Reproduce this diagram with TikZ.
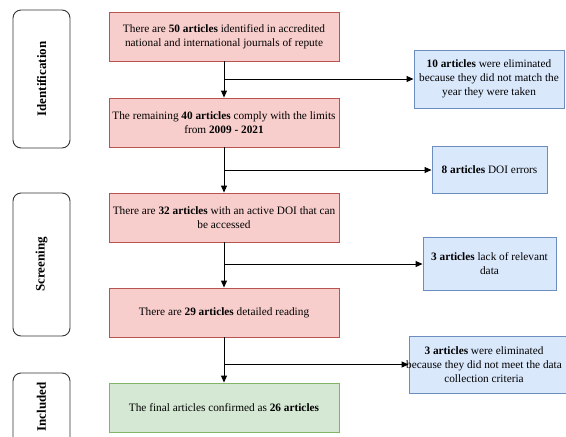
\documentclass[tikz,border=0pt]{standalone}
\usepackage{fontspec}
\setmainfont{Liberation Serif}
\usetikzlibrary{arrows.meta}
\definecolor{redfill}{HTML}{F8CECC}
\definecolor{redline}{HTML}{B85450}
\definecolor{bluefill}{HTML}{DAE8FC}
\definecolor{blueline}{HTML}{6C8EBF}
\definecolor{greenfill}{HTML}{D5E8D4}
\definecolor{greenline}{HTML}{82B366}
\tikzset{
  mainbox/.style={draw=redline, fill=redfill, line width=0.9pt, minimum width=230pt, minimum height=49pt, inner sep=0pt, align=center, font=\fontsize{11.3}{14}\selectfont},
  finalbox/.style={mainbox, draw=greenline, fill=greenfill},
  sidebox/.style={draw=blueline, fill=bluefill, line width=0.9pt, inner sep=0pt, align=center, font=\fontsize{11.3}{14}\selectfont},
  stagebox/.style={draw=black!80, fill=white, line width=0.9pt, rounded corners=8pt, minimum width=57pt, inner sep=0pt},
  stagelabel/.style={rotate=90, font=\fontsize{13}{15}\selectfont\bfseries},
  flow/.style={line width=0.9pt, -{Triangle[length=7pt,width=6pt]}},
  plaintext/.style={align=center, inner sep=0pt, font=\fontsize{11.3}{14}\selectfont}
}
\begin{document}
\begin{tikzpicture}[x=1pt, y=-1pt]
\useasboundingbox (0,0) rectangle (566,437);
% stage boxes
\node[stagebox, minimum height=138pt] (st1) at (41.5,79) {};
\node[stagelabel] (st1t) at (st1.center) {Identification};
\node[stagebox, minimum height=143pt] (st2) at (41.5,264.5) {};
\node[stagelabel] (st2t) at (st2.center) {Screening};
\node[stagebox, minimum height=72pt] (st3) at (41.5,409) {};
\node[stagelabel] (st3t) at (41.5,407) {Included};
% main column
\node[mainbox] (m1) at (224,36.5) {There are \textbf{50 articles} identified in accredited\\national and international journals of repute};
\node[mainbox] (m2) at (224,122.5) {The remaining \textbf{40 articles} comply with the limits\\from \textbf{2009 - 2021}};
\node[mainbox] (m3) at (224,217.5) {There are \textbf{32 articles} with an active DOI that can\\be accessed};
\node[mainbox] (m4) at (224,312.5) {There are \textbf{29 articles} detailed reading};
\node[finalbox] (m5) at (224,407.5) {The final articles confirmed as \textbf{26 articles}};
% side boxes
\node[sidebox, minimum width=150pt, minimum height=58pt] (b1) at (489,79) {\textbf{10 articles} were eliminated\\because they did not match the\\year they were taken};
\node[sidebox, minimum width=115pt, minimum height=47pt] (b2) at (489.5,170) {\textbf{8 articles} DOI errors};
\node[sidebox, minimum width=133pt, minimum height=53pt] (b3) at (489.5,264) {\textbf{3 articles} lack of relevant\\data};
\node[sidebox, minimum width=171pt, minimum height=57pt] (b4) at (494.5,364.5) {};
\node[plaintext] (b4t) at (484,364.5) {\textbf{3 articles} were eliminated\\because they did not meet the data\\collection criteria};
% connectors
\draw[flow] (m1) -- (m2);
\draw[flow] (m2) -- (m3);
\draw[flow] (m3) -- (m4);
\draw[flow] (m4) -- (m5);
\coordinate (j1) at (224,79);
\coordinate (j2) at (224,170);
\coordinate (j3) at (224,264);
\coordinate (j4) at (224,364.5);
\draw[flow] (j1) -- (b1.west);
\draw[flow] (j2) -- (b2.west);
\draw[flow] (j3) -- (b3.west);
\draw[flow] (j4) -- (b4.west);
\end{tikzpicture}
\end{document}
